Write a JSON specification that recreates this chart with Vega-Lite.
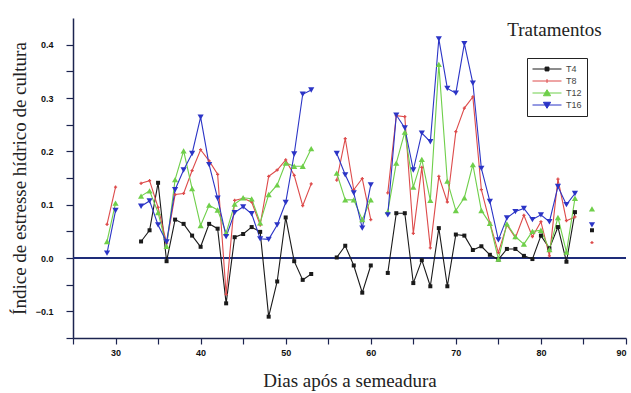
{
  "$schema": "https://vega.github.io/schema/vega-lite/v6.json",
  "width": 553,
  "height": 320,
  "autosize": {"type": "none"},
  "padding": {"left": 73, "top": 18, "right": 5, "bottom": 55},
  "background": "white",
  "title": {"text": "Tratamentos", "anchor": "end", "font": "Liberation Serif", "fontSize": 19, "fontWeight": "normal", "color": "#222222", "dx": -25, "offset": -22},
  "config": {"view": {"stroke": null}},
  "data": {"values": [
    {"s":"T4","g":1,"d":33,"v":0.031},{"s":"T4","g":1,"d":34,"v":0.052},{"s":"T4","g":1,"d":35,"v":0.141},{"s":"T4","g":1,"d":36,"v":-0.006},{"s":"T4","g":1,"d":37,"v":0.072},{"s":"T4","g":1,"d":38,"v":0.064},{"s":"T4","g":1,"d":39,"v":0.042},{"s":"T4","g":1,"d":40,"v":0.021},{"s":"T4","g":1,"d":41,"v":0.064},{"s":"T4","g":1,"d":42,"v":0.055},{"s":"T4","g":1,"d":43,"v":-0.085},{"s":"T4","g":1,"d":44,"v":0.039},{"s":"T4","g":1,"d":45,"v":0.045},{"s":"T4","g":1,"d":46,"v":0.058},{"s":"T4","g":1,"d":47,"v":0.049},{"s":"T4","g":1,"d":48,"v":-0.110},{"s":"T4","g":1,"d":49,"v":-0.044},{"s":"T4","g":1,"d":50,"v":0.076},{"s":"T4","g":1,"d":51,"v":-0.006},{"s":"T4","g":1,"d":52,"v":-0.041},{"s":"T4","g":1,"d":53,"v":-0.030},
    {"s":"T4","g":2,"d":56,"v":0.001},{"s":"T4","g":2,"d":57,"v":0.023},{"s":"T4","g":2,"d":58,"v":-0.014},{"s":"T4","g":2,"d":59,"v":-0.065},{"s":"T4","g":2,"d":60,"v":-0.014},
    {"s":"T4","g":3,"d":62,"v":-0.028},{"s":"T4","g":3,"d":63,"v":0.084},{"s":"T4","g":3,"d":64,"v":0.084},{"s":"T4","g":3,"d":65,"v":-0.047},{"s":"T4","g":3,"d":66,"v":-0.004},{"s":"T4","g":3,"d":67,"v":-0.053},{"s":"T4","g":3,"d":68,"v":0.056},{"s":"T4","g":3,"d":69,"v":-0.053},{"s":"T4","g":3,"d":70,"v":0.044},{"s":"T4","g":3,"d":71,"v":0.042},{"s":"T4","g":3,"d":72,"v":0.015},{"s":"T4","g":3,"d":73,"v":0.022},{"s":"T4","g":3,"d":74,"v":0.006},{"s":"T4","g":3,"d":75,"v":-0.003},{"s":"T4","g":3,"d":76,"v":0.017},{"s":"T4","g":3,"d":77,"v":0.017},{"s":"T4","g":3,"d":78,"v":0.004},{"s":"T4","g":3,"d":79,"v":-0.002},{"s":"T4","g":3,"d":80,"v":0.042},{"s":"T4","g":3,"d":81,"v":0.018},{"s":"T4","g":3,"d":82,"v":0.058},{"s":"T4","g":3,"d":83,"v":-0.007},{"s":"T4","g":3,"d":84,"v":0.086},
    {"s":"T4","g":4,"d":86,"v":0.052},
    {"s":"T8","g":0,"d":29,"v":0.063},{"s":"T8","g":0,"d":30,"v":0.133},
    {"s":"T8","g":1,"d":33,"v":0.140},{"s":"T8","g":1,"d":34,"v":0.145},{"s":"T8","g":1,"d":35,"v":0.095},{"s":"T8","g":1,"d":36,"v":0.028},{"s":"T8","g":1,"d":37,"v":0.119},{"s":"T8","g":1,"d":38,"v":0.121},{"s":"T8","g":1,"d":39,"v":0.164},{"s":"T8","g":1,"d":40,"v":0.203},{"s":"T8","g":1,"d":41,"v":0.182},{"s":"T8","g":1,"d":42,"v":0.157},{"s":"T8","g":1,"d":43,"v":-0.068},{"s":"T8","g":1,"d":44,"v":0.108},{"s":"T8","g":1,"d":45,"v":0.112},{"s":"T8","g":1,"d":46,"v":0.105},{"s":"T8","g":1,"d":47,"v":0.062},{"s":"T8","g":1,"d":48,"v":0.153},{"s":"T8","g":1,"d":49,"v":0.165},{"s":"T8","g":1,"d":50,"v":0.184},{"s":"T8","g":1,"d":51,"v":0.155},{"s":"T8","g":1,"d":52,"v":0.098},{"s":"T8","g":1,"d":53,"v":0.139},
    {"s":"T8","g":2,"d":56,"v":0.146},{"s":"T8","g":2,"d":57,"v":0.224},{"s":"T8","g":2,"d":58,"v":0.128},{"s":"T8","g":2,"d":59,"v":0.149},{"s":"T8","g":2,"d":60,"v":0.072},
    {"s":"T8","g":3,"d":62,"v":0.122},{"s":"T8","g":3,"d":63,"v":0.267},{"s":"T8","g":3,"d":64,"v":0.265},{"s":"T8","g":3,"d":65,"v":0.046},{"s":"T8","g":3,"d":66,"v":0.170},{"s":"T8","g":3,"d":67,"v":0.019},{"s":"T8","g":3,"d":68,"v":0.153},{"s":"T8","g":3,"d":69,"v":0.105},{"s":"T8","g":3,"d":70,"v":0.237},{"s":"T8","g":3,"d":71,"v":0.281},{"s":"T8","g":3,"d":72,"v":0.302},{"s":"T8","g":3,"d":73,"v":0.128},{"s":"T8","g":3,"d":74,"v":0.066},{"s":"T8","g":3,"d":75,"v":0.010},{"s":"T8","g":3,"d":76,"v":0.062},{"s":"T8","g":3,"d":77,"v":0.038},{"s":"T8","g":3,"d":78,"v":0.080},{"s":"T8","g":3,"d":79,"v":0.040},{"s":"T8","g":3,"d":80,"v":0.068},{"s":"T8","g":3,"d":81,"v":0.004},{"s":"T8","g":3,"d":82,"v":0.148},{"s":"T8","g":3,"d":83,"v":0.070},{"s":"T8","g":3,"d":84,"v":0.077},
    {"s":"T8","g":4,"d":86,"v":0.029},
    {"s":"T12","g":0,"d":29,"v":0.031},{"s":"T12","g":0,"d":30,"v":0.103},
    {"s":"T12","g":1,"d":33,"v":0.116},{"s":"T12","g":1,"d":34,"v":0.126},{"s":"T12","g":1,"d":35,"v":0.085},{"s":"T12","g":1,"d":36,"v":0.022},{"s":"T12","g":1,"d":37,"v":0.147},{"s":"T12","g":1,"d":38,"v":0.201},{"s":"T12","g":1,"d":39,"v":0.130},{"s":"T12","g":1,"d":40,"v":0.061},{"s":"T12","g":1,"d":41,"v":0.099},{"s":"T12","g":1,"d":42,"v":0.090},{"s":"T12","g":1,"d":43,"v":0.047},{"s":"T12","g":1,"d":44,"v":0.101},{"s":"T12","g":1,"d":45,"v":0.113},{"s":"T12","g":1,"d":46,"v":0.111},{"s":"T12","g":1,"d":47,"v":0.066},{"s":"T12","g":1,"d":48,"v":0.119},{"s":"T12","g":1,"d":49,"v":0.137},{"s":"T12","g":1,"d":50,"v":0.178},{"s":"T12","g":1,"d":51,"v":0.172},{"s":"T12","g":1,"d":52,"v":0.172},{"s":"T12","g":1,"d":53,"v":0.205},
    {"s":"T12","g":2,"d":56,"v":0.159},{"s":"T12","g":2,"d":57,"v":0.109},{"s":"T12","g":2,"d":58,"v":0.109},{"s":"T12","g":2,"d":59,"v":0.072},{"s":"T12","g":2,"d":60,"v":0.109},
    {"s":"T12","g":3,"d":62,"v":0.087},{"s":"T12","g":3,"d":63,"v":0.178},{"s":"T12","g":3,"d":64,"v":0.236},{"s":"T12","g":3,"d":65,"v":0.133},{"s":"T12","g":3,"d":66,"v":0.185},{"s":"T12","g":3,"d":67,"v":0.108},{"s":"T12","g":3,"d":68,"v":0.363},{"s":"T12","g":3,"d":69,"v":0.144},{"s":"T12","g":3,"d":70,"v":0.089},{"s":"T12","g":3,"d":71,"v":0.113},{"s":"T12","g":3,"d":72,"v":0.175},{"s":"T12","g":3,"d":73,"v":0.089},{"s":"T12","g":3,"d":74,"v":0.065},{"s":"T12","g":3,"d":75,"v":-0.002},{"s":"T12","g":3,"d":76,"v":0.064},{"s":"T12","g":3,"d":77,"v":0.040},{"s":"T12","g":3,"d":78,"v":0.026},{"s":"T12","g":3,"d":79,"v":0.050},{"s":"T12","g":3,"d":80,"v":0.052},{"s":"T12","g":3,"d":81,"v":0.016},{"s":"T12","g":3,"d":82,"v":0.076},{"s":"T12","g":3,"d":83,"v":0.011},{"s":"T12","g":3,"d":84,"v":0.112},
    {"s":"T12","g":4,"d":86,"v":0.092},
    {"s":"T16","g":0,"d":29,"v":0.009},{"s":"T16","g":0,"d":30,"v":0.089},
    {"s":"T16","g":1,"d":33,"v":0.097},{"s":"T16","g":1,"d":34,"v":0.107},{"s":"T16","g":1,"d":35,"v":0.062},{"s":"T16","g":1,"d":36,"v":0.030},{"s":"T16","g":1,"d":37,"v":0.128},{"s":"T16","g":1,"d":38,"v":0.165},{"s":"T16","g":1,"d":39,"v":0.196},{"s":"T16","g":1,"d":40,"v":0.264},{"s":"T16","g":1,"d":41,"v":0.175},{"s":"T16","g":1,"d":42,"v":0.112},{"s":"T16","g":1,"d":43,"v":0.040},{"s":"T16","g":1,"d":44,"v":0.085},{"s":"T16","g":1,"d":45,"v":0.096},{"s":"T16","g":1,"d":46,"v":0.083},{"s":"T16","g":1,"d":47,"v":0.036},{"s":"T16","g":1,"d":48,"v":0.035},{"s":"T16","g":1,"d":49,"v":0.062},{"s":"T16","g":1,"d":50,"v":0.104},{"s":"T16","g":1,"d":51,"v":0.195},{"s":"T16","g":1,"d":52,"v":0.307},{"s":"T16","g":1,"d":53,"v":0.315},
    {"s":"T16","g":2,"d":56,"v":0.196},{"s":"T16","g":2,"d":57,"v":0.156},{"s":"T16","g":2,"d":58,"v":0.122},{"s":"T16","g":2,"d":59,"v":0.056},{"s":"T16","g":2,"d":60,"v":0.137},
    {"s":"T16","g":3,"d":62,"v":0.081},{"s":"T16","g":3,"d":63,"v":0.268},{"s":"T16","g":3,"d":64,"v":0.244},{"s":"T16","g":3,"d":65,"v":0.165},{"s":"T16","g":3,"d":66,"v":0.234},{"s":"T16","g":3,"d":67,"v":0.218},{"s":"T16","g":3,"d":68,"v":0.411},{"s":"T16","g":3,"d":69,"v":0.318},{"s":"T16","g":3,"d":70,"v":0.309},{"s":"T16","g":3,"d":71,"v":0.402},{"s":"T16","g":3,"d":72,"v":0.328},{"s":"T16","g":3,"d":73,"v":0.168},{"s":"T16","g":3,"d":74,"v":0.106},{"s":"T16","g":3,"d":75,"v":0.034},{"s":"T16","g":3,"d":76,"v":0.075},{"s":"T16","g":3,"d":77,"v":0.087},{"s":"T16","g":3,"d":78,"v":0.093},{"s":"T16","g":3,"d":79,"v":0.072},{"s":"T16","g":3,"d":80,"v":0.081},{"s":"T16","g":3,"d":81,"v":0.068},{"s":"T16","g":3,"d":82,"v":0.134},{"s":"T16","g":3,"d":83,"v":0.100},{"s":"T16","g":3,"d":84,"v":0.121},
    {"s":"T16","g":4,"d":86,"v":0.062}
  ]},
  "encoding": {
    "x": {"field": "d", "type": "quantitative", "scale": {"domain": [25, 90], "nice": false, "zero": false},
      "axis": {"title": "Dias após a semeadura", "titleFont": "Liberation Serif", "titleFontSize": 19, "titleFontWeight": "normal", "titleColor": "#222222", "titlePadding": 14,
        "values": [25,30,35,40,45,50,55,60,65,70,75,80,85,90], "labelExpr": "datum.value % 10 === 0 ? datum.label : ''",
        "labelFont": "Liberation Sans", "labelFontWeight": "bold", "labelFontSize": 9, "labelColor": "#111111", "labelPadding": 4,
        "tickSize": 6, "tickColor": "#1c2450", "domainColor": "#1c2450", "domainWidth": 1.5, "tickWidth": 1.2, "grid": false, "labelOverlap": false}},
    "y": {"field": "v", "type": "quantitative", "scale": {"domain": [-0.15, 0.45], "nice": false, "zero": false},
      "axis": {"title": "Índice de estresse hídrico de cultura", "titleFont": "Liberation Serif", "titleFontSize": 19, "titleFontWeight": "normal", "titleColor": "#222222", "titlePadding": 6,
        "values": [-0.15,-0.1,-0.05,0,0.05,0.1,0.15,0.2,0.25,0.3,0.35,0.4], "labelExpr": "abs(round(datum.value*100)) % 10 === 0 ? format(datum.value, '.1f') : ''",
        "labelFont": "Liberation Sans", "labelFontWeight": "bold", "labelFontSize": 9, "labelColor": "#111111", "labelPadding": 13,
        "tickSize": 7, "tickColor": "#1c2450", "domainColor": "#1c2450", "domainWidth": 1.5, "tickWidth": 1.2, "grid": false, "labelOverlap": false}},
    "color": {"field": "s", "type": "nominal", "scale": {"domain": ["T4","T8","T12","T16"], "range": ["#1a1a1a","#dd4b4b","#6fcf4a","#2b34c6"]},
      "legend": {"title": null, "orient": "none", "legendX": 454, "legendY": 40, "strokeColor": "#222222", "padding": 5,
        "labelFont": "Liberation Sans", "labelFontSize": 9, "labelColor": "#444444", "labelOffset": 22, "rowPadding": 1,
        "labelExpr": "datum.label + '\u00a0\u00a0\u00a0\u00a0\u00a0'",
        "symbolSize": 121, "symbolStrokeWidth": 1, "symbolType": "M-1,0H4.27",
        "encode": {"symbols": {"update": {"shape": {"signal": "datum.value === 'T4' ? 'M-1,0H4.27M1.29,-0.35H1.99V0.35H1.29Z' : datum.value === 'T8' ? 'M-1,0H4.27M1.64,-0.35V0.35' : datum.value === 'T12' ? 'M-1,0H4.27M1.64,-0.6L2.3,0.5H0.98Z' : 'M-1,0H4.27M1.64,0.6L2.3,-0.5H0.98Z'"}}}}}}
  },
  "layer": [
    {"mark": {"type": "rule", "color": "#1f2d7a", "strokeWidth": 1.3}, "encoding": {"y": {"datum": 0}, "x": null, "color": null}},
    {"mark": {"type": "line", "strokeWidth": 1.1},
     "encoding": {"detail": {"field": "g", "type": "nominal"}}},
    {"transform": [{"filter": "datum.s === 'T4'"}], "mark": {"type": "point", "shape": "square", "filled": true, "opacity": 1, "size": 16}},
    {"transform": [{"filter": "datum.s === 'T8'"}], "mark": {"type": "point", "shape": "cross", "filled": true, "opacity": 1, "size": 10}},
    {"transform": [{"filter": "datum.s === 'T12'"}], "mark": {"type": "point", "shape": "triangle-up", "filled": true, "opacity": 1, "size": 38}},
    {"transform": [{"filter": "datum.s === 'T16'"}], "mark": {"type": "point", "shape": "triangle-down", "filled": true, "opacity": 1, "size": 38}}
  ]
}
